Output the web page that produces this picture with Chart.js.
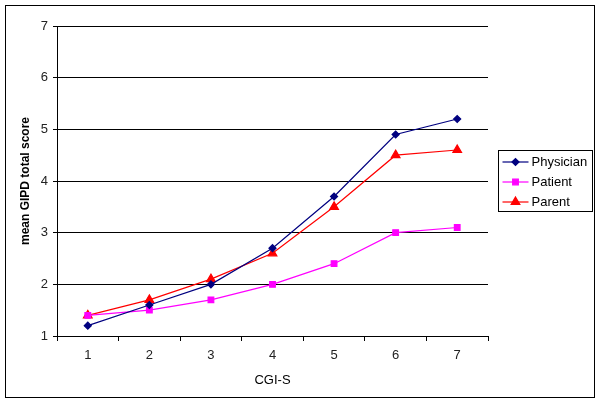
<!DOCTYPE html>
<html>
<head>
  <meta charset="utf-8" />
  <title>GIPD by CGI-S</title>
  <script src="https://cdn.jsdelivr.net/npm/chart.js"></script>
  <style>
    body { margin: 0; background: #fff; }
    #wrap { width: 600px; height: 404px; position: relative; }
  </style>
</head>
<body>
  <div id="wrap"><canvas id="gipdChart" width="600" height="404"></canvas></div>

  <script>
    // data
    const cgiLevels = ['1', '2', '3', '4', '5', '6', '7'];
    const physician = [1.2, 1.6, 2.0, 2.7, 3.7, 4.9, 5.2];
    const patient = [1.4, 1.5, 1.7, 2.0, 2.4, 3.0, 3.1];
    const parent = [1.4, 1.7, 2.1, 2.6, 3.5, 4.5, 4.6];
    const yTicks = [1, 2, 3, 4, 5, 6, 7];

    const font = "'Liberation Sans', Arial, sans-serif";

    // outer frame + excel-like legend box
    const framePlugin = {
      id: 'frame',
      afterDraw(chart) {
        const c = chart.ctx;
        c.save();
        c.strokeStyle = '#000';
        c.lineWidth = 1;
        c.strokeRect(5.5, 5.5, 589, 392);

        // legend
        const lx = 498.5, ly = 150.5, lw = 94, lh = 61;
        c.strokeRect(lx, ly, lw, lh);
        c.font = '13px ' + font;
        c.textBaseline = 'middle';
        chart.data.datasets.forEach((ds, i) => {
          const y = ly + 11.5 + i * 20;
          c.strokeStyle = ds.borderColor;
          c.fillStyle = ds.backgroundColor;
          c.lineWidth = 1.2;
          c.beginPath();
          c.moveTo(lx + 4, y);
          c.lineTo(lx + 30, y);
          c.stroke();
          Chart.helpers.drawPoint(c, {
            pointStyle: ds.pointStyle,
            radius: ds.pointRadius,
            rotation: 0,
            borderWidth: 1
          }, lx + 17, y);
          c.fillStyle = '#000';
          c.fillText(ds.label, lx + 33, y);
        });
        c.restore();
      }
    };

    const ctx = document.getElementById('gipdChart').getContext('2d');
    const gipdChart = new Chart(ctx, {
      type: 'line',
      data: {
        labels: cgiLevels,
        datasets: [
          {
            label: 'Physician',
            data: physician,
            borderColor: '#000080',
            backgroundColor: '#000080',
            pointStyle: 'rectRot',
            pointRadius: 3.5,
            borderWidth: 1.2
          },
          {
            label: 'Patient',
            data: patient,
            borderColor: '#FF00FF',
            backgroundColor: '#FF00FF',
            pointStyle: 'rect',
            pointRadius: 4,
            borderWidth: 1.2
          },
          {
            label: 'Parent',
            data: parent,
            borderColor: '#FF0000',
            backgroundColor: '#FF0000',
            pointStyle: 'triangle',
            pointRadius: 5,
            borderWidth: 1.2
          }
        ]
      },
      options: {
        responsive: false,
        animation: false,
        layout: {
          padding: { left: 0, right: 112, top: 26, bottom: 0 }
        },
        plugins: {
          legend: { display: false },
          tooltip: { enabled: false }
        },
        elements: {
          line: { tension: 0 },
          point: { borderWidth: 1 }
        },
        scales: {
          x: {
            offset: true,
            grid: {
              offset: true,
              drawOnChartArea: false,
              drawTicks: true,
              tickLength: 5,
              color: '#000'
            },
            border: { color: '#000', width: 1 },
            ticks: {
              color: '#222',
              font: { family: font, size: 13 },
              padding: 7
            },
            title: {
              display: true,
              text: 'CGI-S',
              color: '#000',
              font: { family: font, size: 13 },
              padding: { top: 6, bottom: 16 }
            },
            afterFit(scale) { scale.height = 68; }
          },
          y: {
            min: 1,
            max: 7,
            afterBuildTicks(scale) {
              scale.ticks = yTicks.map(v => ({ value: v }));
            },
            grid: {
              color: '#000',
              lineWidth: 1,
              tickLength: 4
            },
            border: { color: '#000', width: 1 },
            ticks: {
              color: '#222',
              font: { family: font, size: 13 },
              padding: 5
            },
            title: {
              display: true,
              text: 'mean GIPD total score',
              color: '#000',
              font: { family: font, size: 12, weight: 'bold' },
              padding: { top: 18, bottom: 0 }
            },
            afterFit(scale) { scale.width = 57; }
          }
        }
      },
      plugins: [framePlugin]
    });
  </script>
</body>
</html>
